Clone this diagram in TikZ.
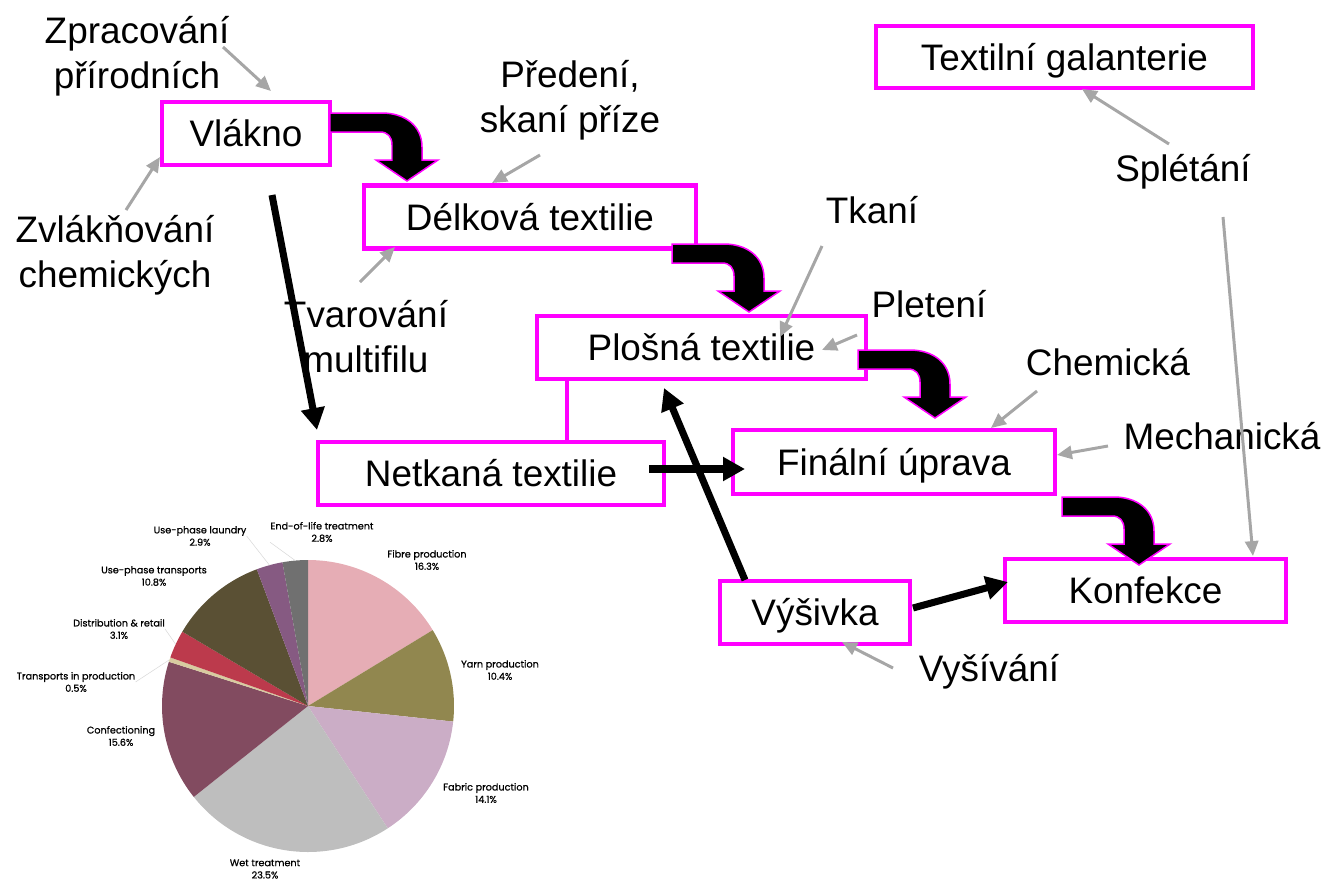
\documentclass[tikz,border=0pt]{standalone}
\usepackage{fontspec}
\setmainfont{Liberation Sans}
\newfontfamily\kolacfont[FakeBold=0.8]{Poppins}
\usetikzlibrary{arrows.meta}

\definecolor{ramecbarva}{RGB}{255,0,255}
\definecolor{sedasipka}{RGB}{166,166,166}
\definecolor{fibre}{RGB}{230,173,181}
\definecolor{yarn}{RGB}{145,135,79}
\definecolor{fabric}{RGB}{203,173,198}
\definecolor{wet}{RGB}{190,190,190}
\definecolor{confection}{RGB}{130,75,96}
\definecolor{transprod}{RGB}{216,203,160}
\definecolor{retail}{RGB}{188,58,76}
\definecolor{usetrans}{RGB}{90,80,52}
\definecolor{laundry}{RGB}{134,90,130}
\definecolor{endlife}{RGB}{112,112,112}

\tikzset{
  krok/.style={draw=ramecbarva, line width=2.3pt, fill=white, inner sep=0pt,
    text height=15.2pt, text depth=0pt, font=\fontsize{21}{25.6}\selectfont},
  popis/.style={align=center, inner sep=0pt, font=\fontsize{21}{25.6}\selectfont},
  tok/.style={line width=4pt, -{Triangle[length=12.5pt,width=13pt]}},
  sipka/.style={draw=sedasipka, line width=1.7pt, -{Triangle[length=8.5pt,width=7.5pt]}},
  spoj/.style={draw=ramecbarva, line width=2.3pt},
  podil/.style={align=center, inner sep=0pt, font=\kolacfont\fontsize{5.5}{7}\selectfont},
  vodic/.style={draw=black!15, line width=0.3pt},
  ohyb/.pic={
    \filldraw[fill=black, draw=ramecbarva, line width=0.85pt, line join=miter]
      (0,0) -- (52,0) .. controls (74,0) and (92,12) .. (92,34) -- (92,47)
      -- (108,47) -- (77,68) -- (46,47) -- (62,47) -- (62,32)
      .. controls (62,24) and (58,19) .. (50,19) -- (0,19) -- cycle;
  }
}

\begin{document}
\begin{tikzpicture}[x=0.02cm, y=-0.02cm]

  \useasboundingbox (0,0) rectangle (1333,880);

  % Kroky
  \node[krok, minimum width=3.36cm, minimum height=1.26cm] (vlakno) at (246,133.5) {Vlákno};
  \node[krok, minimum width=6.64cm, minimum height=1.26cm] (delkova) at (530,217) {Délková textilie};
  \node[krok, minimum width=6.58cm, minimum height=1.26cm] (plosna) at (701.5,347.5) {Plošná textilie};
  \node[krok, minimum width=6.92cm, minimum height=1.26cm] (netkana) at (491,473.5) {Netkaná textilie};
  \node[krok, minimum width=6.44cm, minimum height=1.28cm] (uprava) at (894,462) {Finální úprava};
  \node[krok, minimum width=3.8cm, minimum height=1.26cm] (vysivka) at (815,612.5) {Výšivka};
  \node[krok, minimum width=5.62cm, minimum height=1.26cm] (konfekce) at (1145.5,590.5) {Konfekce};
  \node[krok, minimum width=7.54cm, minimum height=1.24cm] (galanterie) at (1064.5,57) {Textilní galanterie};

  % spojka plosna - netkana
  \path ([shift={(-134.5,0)}]plosna.south) coordinate (spojA);
  \draw[spoj] (spojA) -- (spojA |- netkana.north);

  % Technologie
  \node[popis] (zprac) at (137,56) {Zpracování\\přírodních};
  \node[popis] (zvlak) at (115,255) {Zvlákňování\\chemických};
  \node[popis] (predeni) at (570,100) {Předení,\\skaní příze};
  \node[popis] (tkani) at (872,210) {Tkaní};
  \node[popis] (pleteni) at (929,304) {Pletení};
  \node[popis] (chem) at (1108,362) {Chemická};
  \node[popis] (mech) at (1222,436) {Mechanická};
  \node[popis] (spletani) at (1183,172) {Splétání};
  \node[popis] (vysivani) at (989,672) {Vyšívání};

  % Ohnute sipky
  \pic at ([shift={(84,-20.5)}]vlakno.center) {ohyb};
  \pic at ([shift={(142,27)}]delkova.center) {ohyb};
  \pic at ([shift={(156.5,2.5)}]plosna.center) {ohyb};
  \pic at ([shift={(168,35)}]uprava.center) {ohyb};

  % Tok
  \draw[tok] ([shift={(26,61.5)}]vlakno.center) -- ([shift={(-174,-43.5)}]netkana.center);
  \draw[tok] ([shift={(158,-4.5)}]netkana.center) -- ([shift={(-149,7)}]uprava.center);
  \draw[tok] ([shift={(-70,-32.5)}]vysivka.center) -- ([shift={(-37.5,40.5)}]plosna.center);
  \draw[tok] ([shift={(98,-4.5)}]vysivka.center) -- ([shift={(-137.5,-8.5)}]konfekce.center);

  \node[popis] (tvar) at (366,337) {Tvarování\\multifilu};

  % Sede sipky
  \draw[sipka] ([shift={(86,-9)}]zprac.center) -- ([shift={(25,-42.5)}]vlakno.center);
  \draw[sipka] ([shift={(11,-45)}]zvlak.center) -- ([shift={(-86,23.5)}]vlakno.center);
  \draw[sipka] ([shift={(-30,55)}]predeni.center) -- ([shift={(-38,-34)}]delkova.center);
  \draw[sipka] ([shift={(-6,-55)}]tvar.center) -- ([shift={(-135,30)}]delkova.center);
  \draw[sipka] ([shift={(-50,36)}]tkani.center) -- ([shift={(78.5,-10.5)}]plosna.center);
  \draw[sipka] ([shift={(-72,31)}]pleteni.center) -- ([shift={(120.5,2.5)}]plosna.center);
  \draw[sipka] ([shift={(-71,29)}]chem.center) -- ([shift={(97,-34)}]uprava.center);
  \draw[sipka] ([shift={(-114,10)}]mech.center) -- ([shift={(163,-7)}]uprava.center);
  \draw[sipka] ([shift={(-14,-28)}]spletani.center) -- ([shift={(17.5,32)}]galanterie.center);
  \draw[sipka] ([shift={(40,45)}]spletani.center) -- ([shift={(107.5,-34.5)}]konfekce.center);
  \draw[sipka] ([shift={(-96,-4)}]vysivani.center) -- ([shift={(27,29.5)}]vysivka.center);

  % Kolac
  \coordinate (K) at (308,706);
  \foreach \a/\b/\barva in {-90/-31.32/fibre, -31.32/6.12/yarn, 6.12/56.88/fabric,
      56.88/141.48/wet, 141.48/197.64/confection, 197.64/199.44/transprod,
      199.44/210.6/retail, 210.6/249.48/usetrans, 249.48/259.92/laundry, 259.92/270/endlife}
    \fill[\barva] (K) -- ++(\a:146) arc[start angle=\a, end angle=\b, radius=146] -- cycle;

  \node[podil] (lbLaundry) at (200,536) {Use-phase laundry\\2.9\%};
  \node[podil] (lbEnd) at (322,532) {End-of-life treatment\\2.8\%};
  \node[podil] (lbFibre) at (427,560) {Fibre production\\16.3\%};
  \node[podil] (lbUseTrans) at (154,576) {Use-phase transports\\10.8\%};
  \node[podil] (lbRetail) at (119,629) {Distribution \& retail\\3.1\%};
  \node[podil] (lbYarn) at (500,670) {Yarn production\\10.4\%};
  \node[podil] (lbTransProd) at (76,682) {Transports in production\\0.5\%};
  \node[podil] (lbConf) at (121,736) {Confectioning\\15.6\%};
  \node[podil] (lbFabric) at (486,793) {Fabric production\\14.1\%};
  \node[podil] (lbWet) at (265,869) {Wet treatment\\23.5\%};

  \path (K) ++(254.7:146) coordinate (kLaundry);
  \path (K) ++(265:146) coordinate (kEnd);
  \path (K) ++(205:146) coordinate (kRetail);
  \path (K) ++(198.5:146) coordinate (kTransProd);
  \draw[vodic] (lbLaundry.east) -- (kLaundry);
  \draw[vodic] (lbEnd.south west) -- (kEnd);
  \draw[vodic] (lbRetail.east) -- (kRetail);
  \draw[vodic] (lbTransProd.east) -- (kTransProd);

\end{tikzpicture}
\end{document}
